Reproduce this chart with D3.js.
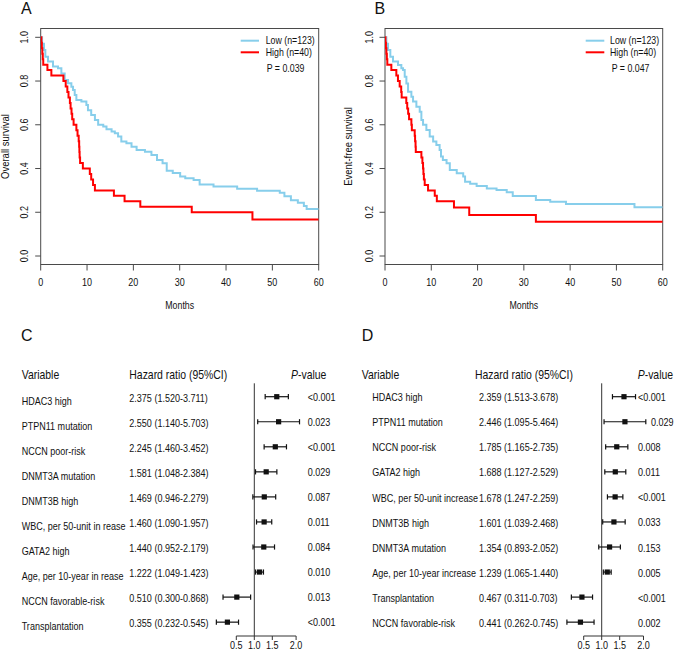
<!DOCTYPE html>
<html><head><meta charset="utf-8">
<script src="https://cdn.jsdelivr.net/npm/d3@7"></script>
<style>html,body{margin:0;padding:0;background:#fff}svg{display:block;font-family:"Liberation Sans",Arial,sans-serif}</style>
</head><body><svg id="c" width="685" height="652"></svg>
<script>
// ---------- DATA ----------
const kmTicksX = [0, 10, 20, 30, 40, 50, 60];
const kmTicksY = [0, 0.2, 0.4, 0.6, 0.8, 1.0];
const legendLabels = ["Low (n=123)", "High (n=40)"];
// Overall survival (months, survival)
const osLow = [[0,1],[0.3,0.97],[0.71,0.942],[1.0,0.911],[1.58,0.889],[2.66,0.866],[3.74,0.858],[4.46,0.835],[5.18,0.805],[5.9,0.79],[6.62,0.774],[6.98,0.759],[7.34,0.736],[7.7,0.713],[8.78,0.706],[9.86,0.69],[10.2,0.667],[10.9,0.645],[11.7,0.622],[12.4,0.6],[13.5,0.592],[14.2,0.579],[15.3,0.569],[16.0,0.561],[16.7,0.546],[17.4,0.523],[18.5,0.516],[19.6,0.5],[20.7,0.485],[22.5,0.477],[23.9,0.462],[25.1,0.439],[26.3,0.424],[27.2,0.39],[28.5,0.38],[30.1,0.363],[31.2,0.355],[33.0,0.347],[34.3,0.327],[37.3,0.318],[42.4,0.307],[46.7,0.298],[51.6,0.289],[52.6,0.273],[54.0,0.255],[55.5,0.243],[56.8,0.229],[57.4,0.215],[60,0.215]];
const osHigh = [[0,1],[0.15,0.975],[0.25,0.95],[0.35,0.925],[0.45,0.9],[0.55,0.875],[1.45,0.85],[2.3,0.825],[4.9,0.8],[5.4,0.775],[5.75,0.75],[6.0,0.725],[6.3,0.7],[6.45,0.675],[6.65,0.65],[6.8,0.625],[7.1,0.6],[7.7,0.575],[7.95,0.55],[8.2,0.525],[8.3,0.5],[8.35,0.475],[8.4,0.45],[8.5,0.425],[9.1,0.4],[10.6,0.375],[10.9,0.35],[11.3,0.325],[11.7,0.3],[15.8,0.275],[18.1,0.25],[21.5,0.225],[32.6,0.2],[45.7,0.167],[60,0.167]];
// Event-free survival
const efsLow = [[0,1],[0.3,0.97],[0.65,0.942],[1.15,0.911],[1.73,0.889],[2.81,0.873],[3.53,0.858],[3.9,0.85],[4.26,0.82],[4.62,0.789],[4.98,0.751],[5.7,0.728],[6.06,0.706],[6.78,0.683],[7.5,0.66],[7.86,0.622],[8.22,0.6],[8.94,0.576],[9.66,0.546],[10.4,0.523],[11.1,0.508],[11.8,0.485],[12.1,0.455],[12.5,0.439],[13.3,0.424],[14.0,0.393],[15.5,0.378],[16.9,0.363],[17.3,0.34],[18.4,0.33],[19.8,0.32],[22.0,0.309],[24.1,0.302],[26.3,0.291],[27.6,0.274],[32.6,0.256],[35.7,0.248],[39.1,0.238],[53.9,0.223],[60,0.223]];
const efsHigh = [[0,1],[0.1,0.975],[0.2,0.95],[0.3,0.925],[0.4,0.9],[0.5,0.875],[1.37,0.85],[2.45,0.825],[2.8,0.8],[3.17,0.775],[3.5,0.75],[3.6,0.725],[4.6,0.7],[4.8,0.675],[5.0,0.65],[5.2,0.625],[5.7,0.6],[5.8,0.575],[6.42,0.55],[6.5,0.525],[6.6,0.5],[6.65,0.475],[7.86,0.45],[8.08,0.425],[8.22,0.4],[8.3,0.375],[8.4,0.35],[8.58,0.325],[9.3,0.3],[10.75,0.275],[11.2,0.25],[14.9,0.222],[18.2,0.188],[32.6,0.157],[60,0.157]];

// Forest plot C (overall survival)
const cVars = ["HDAC3 high","PTPN11 mutation","NCCN poor-risk","DNMT3A mutation","DNMT3B high","WBC, per 50-unit in rease","GATA2 high","Age, per 10-year in rease","NCCN favorable-risk","Transplantation"];
const cHR = [2.375,2.550,2.245,1.581,1.469,1.460,1.440,1.222,0.510,0.355];
const cLo = [1.520,1.140,1.460,1.048,0.946,1.090,0.952,1.049,0.300,0.232];
const cHi = [3.711,5.703,3.452,2.384,2.279,1.957,2.179,1.423,0.868,0.545];
const cP  = ["<0.001","0.023","<0.001","0.029","0.087","0.011","0.084","0.010","0.013","<0.001"];
// Forest plot D (event-free survival)
const dVars = ["HDAC3 high","PTPN11 mutation","NCCN poor-risk","GATA2 high","WBC, per 50-unit increase","DNMT3B high","DNMT3A mutation","Age, per 10-year increase","Transplantation","NCCN favorable-risk"];
const dHR = [2.359,2.446,1.785,1.688,1.678,1.601,1.354,1.239,0.467,0.441];
const dLo = [1.513,1.095,1.165,1.127,1.247,1.039,0.893,1.065,0.311,0.262];
const dHi = [3.678,5.464,2.735,2.529,2.259,2.468,2.052,1.440,0.703,0.745];
const dP  = ["<0.001","0.029","0.008","0.011","<0.001","0.033","0.153","0.005","<0.001","0.002"];
const forestTicks = [0.5, 1, 2, 5];
const forestTickLabels = ["0.5","1.0","1.5","2.0"];

// ---------- DRAW ----------
const svg = d3.select("#c");
const BLUE = "#87CEEB", RED = "#FF0000", AX = "#4a4a4a";

function T(sel, x, y, s, o = {}) {
  const size = o.size || 10, sx = o.sx || 0.88, anchor = o.anchor || "start";
  return sel.append("text")
    .attr("transform", `translate(${x},${y})${o.rot ? ` rotate(${o.rot})` : ""} scale(${sx},1)`)
    .attr("font-size", size).attr("text-anchor", anchor).attr("fill", o.fill || "#111")
    .text(s);
}

// ---- Kaplan-Meier panels ----
const kmPanels = [
  {x0: 40.7, x1: 318.7, low: osLow, high: osHigh, p: "P = 0.039", ylab: "Overall survival", ylabX: 8.5, letter: "A", letterX: 21, legX0: 240.7, legX1: 259, legT: 265.7, pX: 266.7},
  {x0: 385, x1: 662.7, low: efsLow, high: efsHigh, p: "P = 0.047", ylab: "Event-free survival", ylabX: 351.5, letter: "B", letterX: 374.5, legX0: 585.7, legX1: 604.3, legT: 610, pX: 611.7}
];
const yTop = 28.5, yBot = 264.5;
kmPanels.forEach((P, k) => {
  const g = svg.append("g");
  const x = d3.scaleLinear().domain([0, 60]).range([P.x0, P.x1]);
  const y = d3.scaleLinear().domain([0, 1]).range([256, 37.3]);
  T(g, P.letterX, 13.5, P.letter, {size: 16, sx: 1});
  g.append("rect").attr("x", P.x0).attr("y", yTop).attr("width", P.x1 - P.x0).attr("height", yBot - yTop)
    .attr("fill", "none").attr("stroke", AX).attr("stroke-width", 1);
  const cid = "clip" + k;
  g.append("clipPath").attr("id", cid).append("rect").attr("x", P.x0).attr("y", yTop).attr("width", P.x1 - P.x0).attr("height", yBot - yTop);
  kmTicksY.forEach(v => {
    g.append("line").attr("x1", P.x0 - 5.5).attr("x2", P.x0).attr("y1", y(v)).attr("y2", y(v)).attr("stroke", AX);
    T(g, P.x0 - 12.3, y(v), v.toFixed(1), {size: 10, sx: 0.9, rot: -90, anchor: "middle"});
  });
  kmTicksX.forEach(v => {
    g.append("line").attr("x1", x(v)).attr("x2", x(v)).attr("y1", yBot).attr("y2", yBot + 6).attr("stroke", AX);
    T(g, x(v), 285.5, String(v), {size: 10, sx: 0.9, anchor: "middle"});
  });
  T(g, (P.x0 + P.x1) / 2, 309.3, "Months", {size: 10, sx: 0.88, anchor: "middle"});
  T(g, P.ylabX, (yTop + yBot) / 2, P.ylab, {size: 10, sx: 0.95, rot: -90, anchor: "middle"});
  const line = d3.line().x(d => x(d[0])).y(d => y(d[1])).curve(d3.curveStepAfter);
  const cg = g.append("g").attr("clip-path", `url(#${cid})`);
  cg.append("path").attr("d", line(P.low)).attr("fill", "none").attr("stroke", BLUE).attr("stroke-width", 2);
  cg.append("path").attr("d", line(P.high)).attr("fill", "none").attr("stroke", RED).attr("stroke-width", 2);
  [BLUE, RED].forEach((c, i) => {
    const ly = 40.7 + i * 11.6;
    g.append("line").attr("x1", P.legX0).attr("x2", P.legX1).attr("y1", ly).attr("y2", ly).attr("stroke", c).attr("stroke-width", 2);
    T(g, P.legT, ly + 3.5, legendLabels[i], {size: 10, sx: 0.88});
  });
  T(g, P.pX, 71.8, P.p, {size: 10, sx: 0.88});
});

// ---- Forest panels ----
const forests = [
  {vars: cVars, hr: cHR, lo: cLo, hi: cHi, p: cP, letter: "C", letterX: 21, varX: 21.7, labX: 21.7, hrHX: 129.3, hrX: 129.3, pHX: 291, pX: 307.7, pShift: {}, ref: 254.3, labDy: 8.3, hrDy: 5, pDy: 4.3},
  {vars: dVars, hr: dHR, lo: dLo, hi: dHi, p: dP, letter: "D", letterX: 361.7, varX: 361.7, labX: 372.3, hrHX: 475, hrX: 479, pHX: 637.7, pX: 638, pShift: {1: 13}, ref: 601.7, labDy: 4.6, hrDy: 4.6, pDy: 4.5}
];
const rowY0 = 396.7, rowStep = 25.05, axisY = 636;
forests.forEach(F => {
  const g = svg.append("g");
  // log scale: ~60 px per decade, HR = 1 at the reference line
  const x = d3.scaleLog().domain([0.1, 10]).range([F.ref - 59.8, F.ref + 59.8]);
  const ry = i => rowY0 + i * rowStep;
  T(g, F.letterX, 341, F.letter, {size: 16, sx: 1});
  T(g, F.varX, 378.6, "Variable", {size: 12, sx: 0.87});
  T(g, F.hrHX, 378.6, "Hazard ratio (95%CI)", {size: 12, sx: 0.87});
  const ph = T(g, F.pHX, 378.6, "", {size: 12, sx: 0.87});
  ph.append("tspan").attr("font-style", "italic").text("P");
  ph.append("tspan").text("-value");
  g.append("line").attr("x1", x(1)).attr("x2", x(1)).attr("y1", 383.3).attr("y2", axisY).attr("stroke", "#333").attr("stroke-width", 1);
  g.append("line").attr("x1", x(forestTicks[0])).attr("x2", x(forestTicks[forestTicks.length - 1]))
    .attr("y1", axisY).attr("y2", axisY).attr("stroke", "#333").attr("stroke-width", 1);
  forestTicks.forEach((v, i) => {
    g.append("line").attr("x1", x(v)).attr("x2", x(v)).attr("y1", axisY).attr("y2", axisY + 4).attr("stroke", "#333");
    T(g, x(v), 649.4, forestTickLabels[i], {size: 10.5, sx: 0.86, anchor: "middle"});
  });
  F.vars.forEach((name, i) => {
    const yy = ry(i);
    T(g, F.labX, yy + F.labDy, name, {size: 10.5, sx: 0.86});
    T(g, F.hrX, yy + F.hrDy, `${F.hr[i].toFixed(3)} (${F.lo[i].toFixed(3)}-${F.hi[i].toFixed(3)})`, {size: 10.5, sx: 0.86});
    T(g, F.pX + (F.pShift[i] || 0), yy + F.pDy, F.p[i], {size: 10.5, sx: 0.86});
    const x1 = x(F.lo[i]), x2 = x(F.hi[i]), xc = x(F.hr[i]);
    g.append("line").attr("x1", x1).attr("x2", x2).attr("y1", yy).attr("y2", yy).attr("stroke", "#111").attr("stroke-width", 1.2);
    [x1, x2].forEach(xx => g.append("line").attr("x1", xx).attr("x2", xx).attr("y1", yy - 2.6).attr("y2", yy + 2.6).attr("stroke", "#111").attr("stroke-width", 1.2));
    g.append("rect").attr("x", xc - 2.6).attr("y", yy - 2.6).attr("width", 5.2).attr("height", 5.2).attr("fill", "#111");
  });
});
</script></body></html>
